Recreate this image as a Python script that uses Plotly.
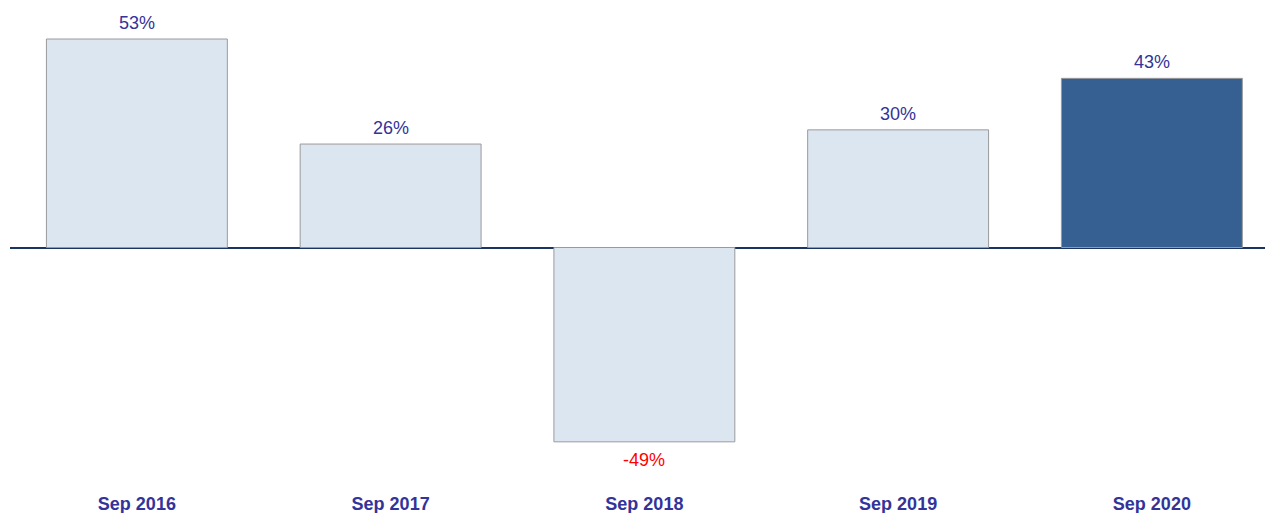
import plotly.graph_objects as go

categories = ["Sep 2016", "Sep 2017", "Sep 2018", "Sep 2019", "Sep 2020"]
values = [53.0, 26.3, -49.4, 29.9, 43.0]
labels = ["53%", "26%", "-49%", "30%", "43%"]

light = "#dce6f1"
dark = "#366092"
fills = [light, light, light, light, dark]
label_blue = "#333399"
label_colors = [label_blue if v >= 0 else "#ff0000" for v in values]

fig = go.Figure()
fig.add_trace(go.Bar(
    x=categories, y=values, width=0.713,
    marker=dict(color=fills, line=dict(color="#9a9a9a", width=1)),
    hoverinfo="skip",
))

for c, v, t, col in zip(categories, values, labels, label_colors):
    fig.add_annotation(
        x=c, y=v, text=t, showarrow=False,
        yanchor="bottom" if v >= 0 else "top",
        yshift=4 if v >= 0 else -6,
        font=dict(family="Arial, Liberation Sans, sans-serif", size=18, color=col),
    )

W, H = 1265, 513
LEFT = 10
PLOT_BOTTOM = 491
ZERO_Y = 247.5
PX_PER_UNIT = 3.934
CAT_PX = 253.75
fig.update_layout(
    width=W, height=H,
    margin=dict(l=LEFT, r=0, t=0, b=H - PLOT_BOTTOM),
    plot_bgcolor="white", paper_bgcolor="white",
    showlegend=False,
    xaxis=dict(
        range=[-0.5, -0.5 + (W - LEFT) / CAT_PX],
        showgrid=False, showline=False, ticks="",
        tickfont=dict(family="Arial, Liberation Sans, sans-serif", size=18, color=label_blue, weight="bold"),
        fixedrange=True,
    ),
    yaxis=dict(
        range=[-(PLOT_BOTTOM - ZERO_Y) / PX_PER_UNIT, ZERO_Y / PX_PER_UNIT],
        showgrid=False, showticklabels=False, ticks="",
        zeroline=True, zerolinecolor="#1b3562", zerolinewidth=2,
        fixedrange=True,
    ),
)

fig.write_html(
    "out.html",
    config={"displayModeBar": False},
    post_script="document.body.style.margin='0';document.body.style.overflow='hidden';",
)
